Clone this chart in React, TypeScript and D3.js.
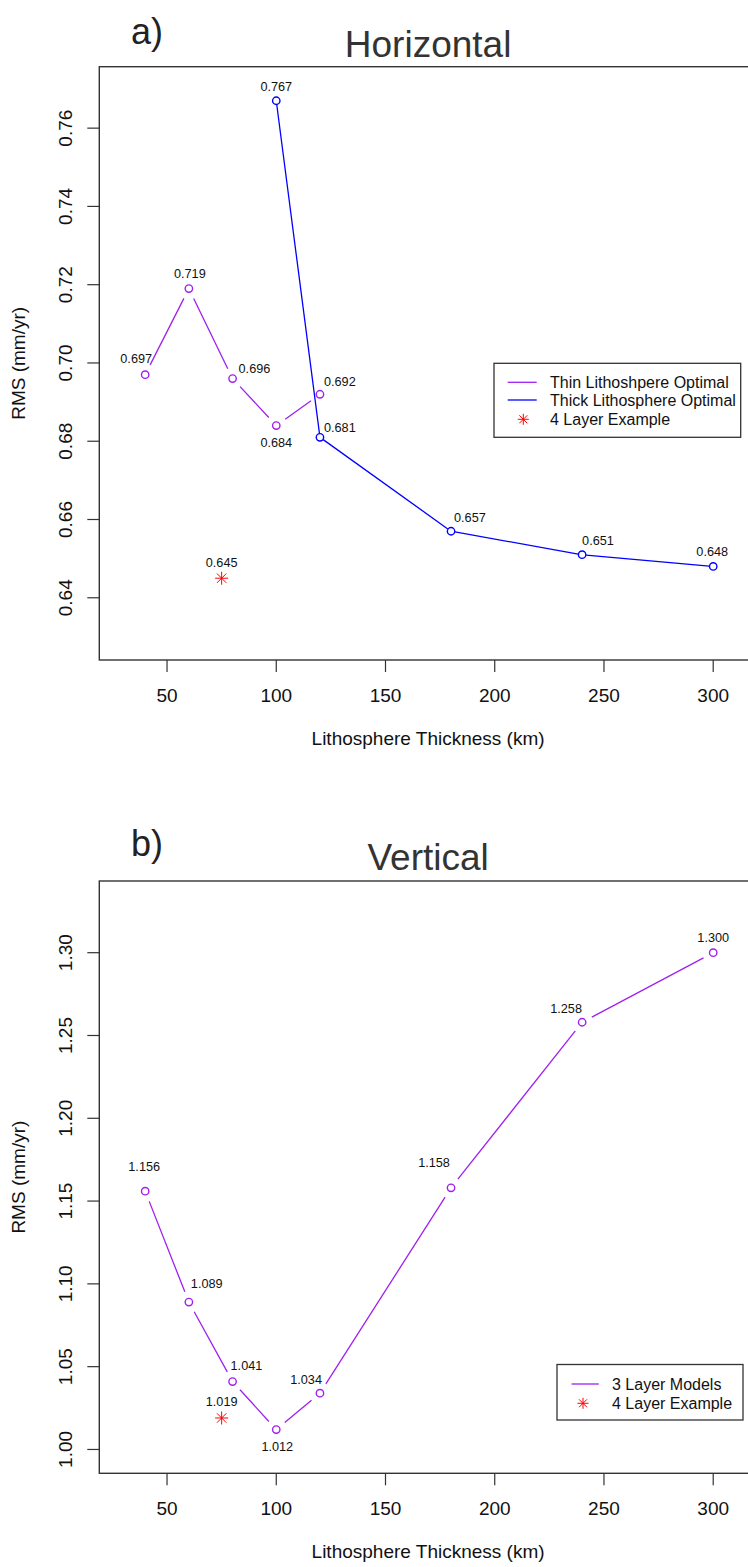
import React from 'react';
import * as d3 from 'd3';

// values
const thinKm = [40, 60, 80, 100, 120];
const thinRms = [0.697, 0.719, 0.696, 0.684, 0.692];
const thickKm = [100, 120, 180, 240, 300];
const thickRms = [0.767, 0.681, 0.657, 0.651, 0.648];
const exampleKm = [75];
const exampleHoriz = [0.645];
const exampleVert = [1.019];
const vertKm = [40, 60, 80, 100, 120, 180, 240, 300];
const vertRms = [1.156, 1.089, 1.041, 1.012, 1.034, 1.158, 1.258, 1.3];

const xTicks = [50, 100, 150, 200, 250, 300];
const horizTicks = [0.64, 0.66, 0.68, 0.7, 0.72, 0.74, 0.76];
const vertTicks = [1.0, 1.05, 1.1, 1.15, 1.2, 1.25, 1.3];

// label nudges [dx, dy, anchor] relative to the point
const thinNudge: [number, number, string][] = [[-9, -12, 'middle'], [1, -11, 'middle'], [6, -6, 'start'], [0, 21, 'middle'], [4, -8, 'start']];
const thickNudge: [number, number, string][] = [[0, -10, 'middle'], [4, -5, 'start'], [3, -9, 'start'], [0, -10, 'start'], [-1, -10, 'middle']];
const vertNudge: [number, number, string][] = [[-1, -20, 'middle'], [2, -14, 'start'], [-2, -12, 'start'], [1, 21, 'middle'], [2, -9, 'end'], [-17, -21, 'middle'], [-16, -9, 'middle'], [0, -11, 'middle']];

const PURPLE = '#A020F0';
const BLUE = '#0000FF';
const RED = '#FF0000';
const FONT = '"Liberation Sans", Arial, sans-serif';

const W = 748, H = 1567;
const x = d3.scaleLinear().domain([19, 320]).range([99.3, 756.9]);

function gapSegments(pts: [number, number][], gap: number) {
  const segs: string[] = [];
  for (let i = 0; i < pts.length - 1; i++) {
    const [x0, y0] = pts[i], [x1, y1] = pts[i + 1];
    const len = Math.hypot(x1 - x0, y1 - y0);
    if (len <= 2 * gap) continue;
    const ux = (x1 - x0) / len, uy = (y1 - y0) / len;
    segs.push(`M${x0 + ux * gap},${y0 + uy * gap}L${x1 - ux * gap},${y1 - uy * gap}`);
  }
  return segs.join('');
}

function Star({ cx, cy, s = 6.5 }: { cx: number; cy: number; s?: number }) {
  const d = s * 0.72;
  return (
    <path
      d={`M${cx - s},${cy}H${cx + s}M${cx},${cy - s}V${cy + s}M${cx - d},${cy - d}L${cx + d},${cy + d}M${cx - d},${cy + d}L${cx + d},${cy - d}`}
      stroke={RED} strokeWidth={1} fill="none" />
  );
}

function Series({ km, rms, y, color, gap, nudge }: any) {
  const pts: [number, number][] = km.map((k: number, i: number) => [x(k), y(rms[i])]);
  return (
    <g>
      <path d={gapSegments(pts, gap)} stroke={color} strokeWidth={1.3} fill="none" />
      {pts.map(([px, py], i) => (
        <circle key={i} cx={px} cy={py} r={3.7} fill="none" stroke={color} strokeWidth={1.4} />
      ))}
      {pts.map(([px, py], i) => (
        <text key={'t' + i} x={px + nudge[i][0]} y={py + nudge[i][1]} textAnchor={nudge[i][2]}
          fontSize={12.7} fill="#111">{rms[i].toFixed(3)}</text>
      ))}
    </g>
  );
}

function Axes({ y, ticks, top, bottom, tag, tagY, title, titleY }: any) {
  const left = x.range()[0], right = x.range()[1];
  const mid = (top + bottom) / 2;
  return (
    <g fontFamily={FONT}>
      <text x={131} y={tagY} fontSize={36} fill="#222">{tag}</text>
      <text x={(left + right) / 2} y={titleY} fontSize={37} textAnchor="middle" fill="#333">{title}</text>
      <rect x={left} y={top} width={right - left} height={bottom - top} fill="none" stroke="#333" strokeWidth={1.4} />
      {xTicks.map(t => (
        <g key={t}>
          <line x1={x(t)} x2={x(t)} y1={bottom} y2={bottom + 12} stroke="#333" strokeWidth={1.2} />
          <text x={x(t)} y={bottom + 41.7} fontSize={19} textAnchor="middle" fill="#111">{t}</text>
        </g>
      ))}
      {ticks.map((t: number) => (
        <g key={t}>
          <line x1={left - 12} x2={left} y1={y(t)} y2={y(t)} stroke="#333" strokeWidth={1.2} />
          <text transform={`translate(71.7,${y(t)}) rotate(-90)`} fontSize={19} textAnchor="middle" fill="#111">
            {t.toFixed(2)}
          </text>
        </g>
      ))}
      <text x={(left + right) / 2} y={bottom + 85} fontSize={19} textAnchor="middle" fill="#111">
        Lithosphere Thickness (km)
      </text>
      <text transform={`translate(25,${mid}) rotate(-90)`} fontSize={19} textAnchor="middle" fill="#111">
        RMS (mm/yr)
      </text>
    </g>
  );
}

export default function App() {
  const yH = d3.scaleLinear().domain([0.6241, 0.7757]).range([660, 66.7]);
  const yV = d3.scaleLinear().domain([0.9856, 1.3433]).range([1473.3, 881]);

  return (
    <svg width={W} height={H} style={{ position: 'absolute', left: 0, top: 0, background: '#fff' }}
      fontFamily={FONT}>
      <rect width={W} height={H} fill="#fff" />

      {/* a) Horizontal */}
      <Axes y={yH} ticks={horizTicks} top={66.7} bottom={660} tag="a)" tagY={44} title="Horizontal" titleY={56.7} />
      <Series km={thinKm} rms={thinRms} y={yH} color={PURPLE} gap={11} nudge={thinNudge} />
      <Series km={thickKm} rms={thickRms} y={yH} color={BLUE} gap={4} nudge={thickNudge} />
      {exampleKm.map((k, i) => (
        <g key={k}>
          <Star cx={x(k)} cy={yH(exampleHoriz[i])} />
          <text x={x(k)} y={yH(exampleHoriz[i]) - 11} fontSize={12.7} textAnchor="middle" fill="#111">
            {exampleHoriz[i].toFixed(3)}
          </text>
        </g>
      ))}
      <g fontSize={16} fill="#111">
        <rect x={494} y={363.3} width={246.7} height={74} fill="#fff" stroke="#333" strokeWidth={1.3} />
        <line x1={507.7} x2={536.7} y1={382.3} y2={382.3} stroke={PURPLE} strokeWidth={1.3} />
        <text x={550} y={388}>Thin Lithoshpere Optimal</text>
        <line x1={507.7} x2={536.7} y1={400} y2={400} stroke={BLUE} strokeWidth={1.3} />
        <text x={550} y={405.7}>Thick Lithosphere Optimal</text>
        <Star cx={523.3} cy={419.3} s={5.5} />
        <text x={550} y={425}>4 Layer Example</text>
      </g>

      {/* b) Vertical */}
      <Axes y={yV} ticks={vertTicks} top={881} bottom={1473.3} tag="b)" tagY={855.5} title="Vertical" titleY={869.5} />
      <Series km={vertKm} rms={vertRms} y={yV} color={PURPLE} gap={11} nudge={vertNudge} />
      {exampleKm.map((k, i) => (
        <g key={k}>
          <Star cx={x(k)} cy={yV(exampleVert[i])} />
          <text x={x(k)} y={yV(exampleVert[i]) - 12} fontSize={12.7} textAnchor="middle" fill="#111">
            {exampleVert[i].toFixed(3)}
          </text>
        </g>
      ))}
      <g fontSize={16} fill="#111">
        <rect x={557} y={1364.5} width={186} height={55.5} fill="#fff" stroke="#333" strokeWidth={1.3} />
        <line x1={571.6} x2={598.8} y1={1384} y2={1384} stroke={PURPLE} strokeWidth={1.3} />
        <text x={612} y={1389.7}>3 Layer Models</text>
        <Star cx={583} cy={1403.3} s={5.5} />
        <text x={612} y={1409}>4 Layer Example</text>
      </g>
    </svg>
  );
}
